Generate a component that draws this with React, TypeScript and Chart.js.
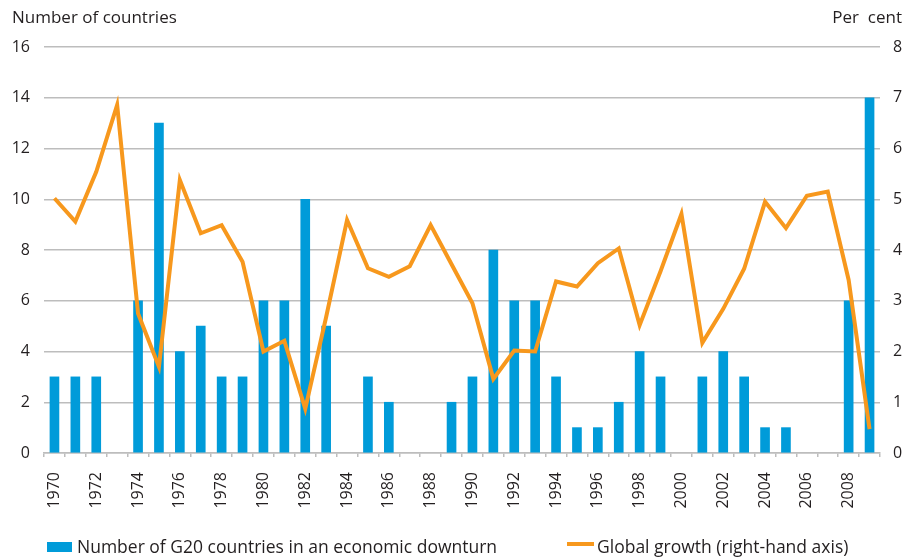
import React, { useEffect, useRef } from "react";
import { Chart, registerables } from "chart.js";

Chart.register(...registerables);

const years = [
  "1970", "1971", "1972", "1973", "1974", "1975", "1976", "1977", "1978", "1979",
  "1980", "1981", "1982", "1983", "1984", "1985", "1986", "1987", "1988", "1989",
  "1990", "1991", "1992", "1993", "1994", "1995", "1996", "1997", "1998", "1999",
  "2000", "2001", "2002", "2003", "2004", "2005", "2006", "2007", "2008", "2009",
];

const downturnCountries = [
  3, 3, 3, 0, 6, 13, 4, 5, 3, 3,
  6, 6, 10, 5, 0, 3, 2, 0, 0, 2,
  3, 8, 6, 6, 3, 1, 1, 2, 4, 3,
  0, 3, 4, 3, 1, 1, 0, 0, 6, 14,
];

const globalGrowth = [
  5.02, 4.56, 5.54, 6.86, 2.75, 1.7, 5.38, 4.33, 4.49, 3.77,
  2.0, 2.21, 0.87, 2.68, 4.59, 3.64, 3.47, 3.68, 4.49, 3.72,
  2.95, 1.46, 2.02, 2.0, 3.38, 3.28, 3.74, 4.03, 2.52, 3.58,
  4.71, 2.17, 2.84, 3.63, 4.95, 4.43, 5.07, 5.15, 3.41, 0.47,
];

const leftAxisTitle = "Number of countries";
const rightAxisTitle = "Per\u00a0\u00a0cent";
const barLabel = "Number of G20 countries in an economic downturn";
const lineLabel = "Global growth (right-hand axis)";
const leftMax = 16;
const leftStep = 2;
const rightMax = 8;
const rightStep = 1;
const xLabelEvery = 2;

const BLUE = "#009bd9";
const ORANGE = "#f7981d";
const TEXT = "#231f20";
const GRID = "#bdbdbd";
const FONT = "'Open Sans', 'Noto Sans', sans-serif";

export default function App() {
  const ref = useRef<HTMLCanvasElement | null>(null);

  useEffect(() => {
    if (!ref.current) return;
    const chart = new Chart(ref.current, {
      type: "bar",
      data: {
        labels: years,
        datasets: [
          {
            type: "line",
            label: lineLabel,
            data: globalGrowth,
            yAxisID: "y1",
            borderColor: ORANGE,
            backgroundColor: ORANGE,
            borderWidth: 4,
            pointRadius: 0,
            tension: 0,
            borderJoinStyle: "miter",
            order: 0,
          },
          {
            type: "bar",
            label: barLabel,
            data: downturnCountries,
            yAxisID: "y",
            backgroundColor: (ctx: any) =>
              ctx.raw === 0 ? "rgba(0,0,0,0)" : BLUE,
            borderWidth: 0,
            barThickness: 9,
            order: 1,
          },
        ],
      },
      options: {
        responsive: false,
        devicePixelRatio: 1,
        animation: false,
        layout: { padding: { top: 47, left: 0, right: 0, bottom: 0 } },
        plugins: {
          legend: { display: false },
          tooltip: { enabled: false },
          title: { display: false },
        },
        scales: {
          x: {
            offset: true,
            grid: {
              offset: true,
              drawOnChartArea: false,
              drawTicks: true,
              tickLength: 4,
              color: GRID,
              lineWidth: 1.5,
            },
            border: { display: true, color: GRID, width: 1.5 },
            ticks: {
              autoSkip: false,
              maxRotation: 90,
              minRotation: 90,
              padding: 15,
              color: TEXT,
              font: { family: FONT, size: 16 },
              callback: function (value: any, index: number) {
                return index % xLabelEvery === 0 ? years[index] : "";
              },
            },
            afterFit: (s: any) => {
              s.height = 104;
            },
          },
          y: {
            position: "left",
            min: 0,
            max: leftMax,
            ticks: {
              stepSize: leftStep,
              padding: 14,
              color: TEXT,
              font: { family: FONT, size: 16 },
            },
            grid: { color: GRID, lineWidth: 1.5, drawTicks: false },
            border: { display: false },
            afterFit: (s: any) => {
              s.width = 44;
            },
          },
          y1: {
            position: "right",
            min: 0,
            max: rightMax,
            ticks: {
              stepSize: rightStep,
              padding: 13,
              color: TEXT,
              font: { family: FONT, size: 16 },
            },
            grid: { drawOnChartArea: false, drawTicks: false },
            border: { display: false },
            afterFit: (s: any) => {
              s.width = 28;
            },
          },
        },
      },
    });
    return () => chart.destroy();
  }, []);

  const textStyle: React.CSSProperties = {
    position: "absolute",
    fontFamily: FONT,
    fontSize: 17,
    color: TEXT,
    lineHeight: "20px",
    whiteSpace: "pre",
  };

  return (
    <div
      style={{
        position: "fixed",
        left: 0,
        top: 0,
        width: 908,
        height: 557,
        background: "#ffffff",
      }}
    >
      <canvas ref={ref} width={908} height={557} style={{ position: "absolute", left: 0, top: 0 }} />
      <span style={{ ...textStyle, left: 12, top: 7 }}>{leftAxisTitle}</span>
      <span style={{ ...textStyle, right: 6, top: 7 }}>{rightAxisTitle}</span>
      <div
        style={{
          position: "absolute",
          left: 47,
          top: 542,
          width: 25,
          height: 10,
          background: BLUE,
        }}
      />
      <span style={{ ...textStyle, fontSize: 17.5, left: 77, top: 536 }}>{barLabel}</span>
      <div
        style={{
          position: "absolute",
          left: 567,
          top: 542,
          width: 27,
          height: 4,
          background: ORANGE,
        }}
      />
      <span style={{ ...textStyle, fontSize: 17.5, left: 597, top: 536 }}>{lineLabel}</span>
    </div>
  );
}
